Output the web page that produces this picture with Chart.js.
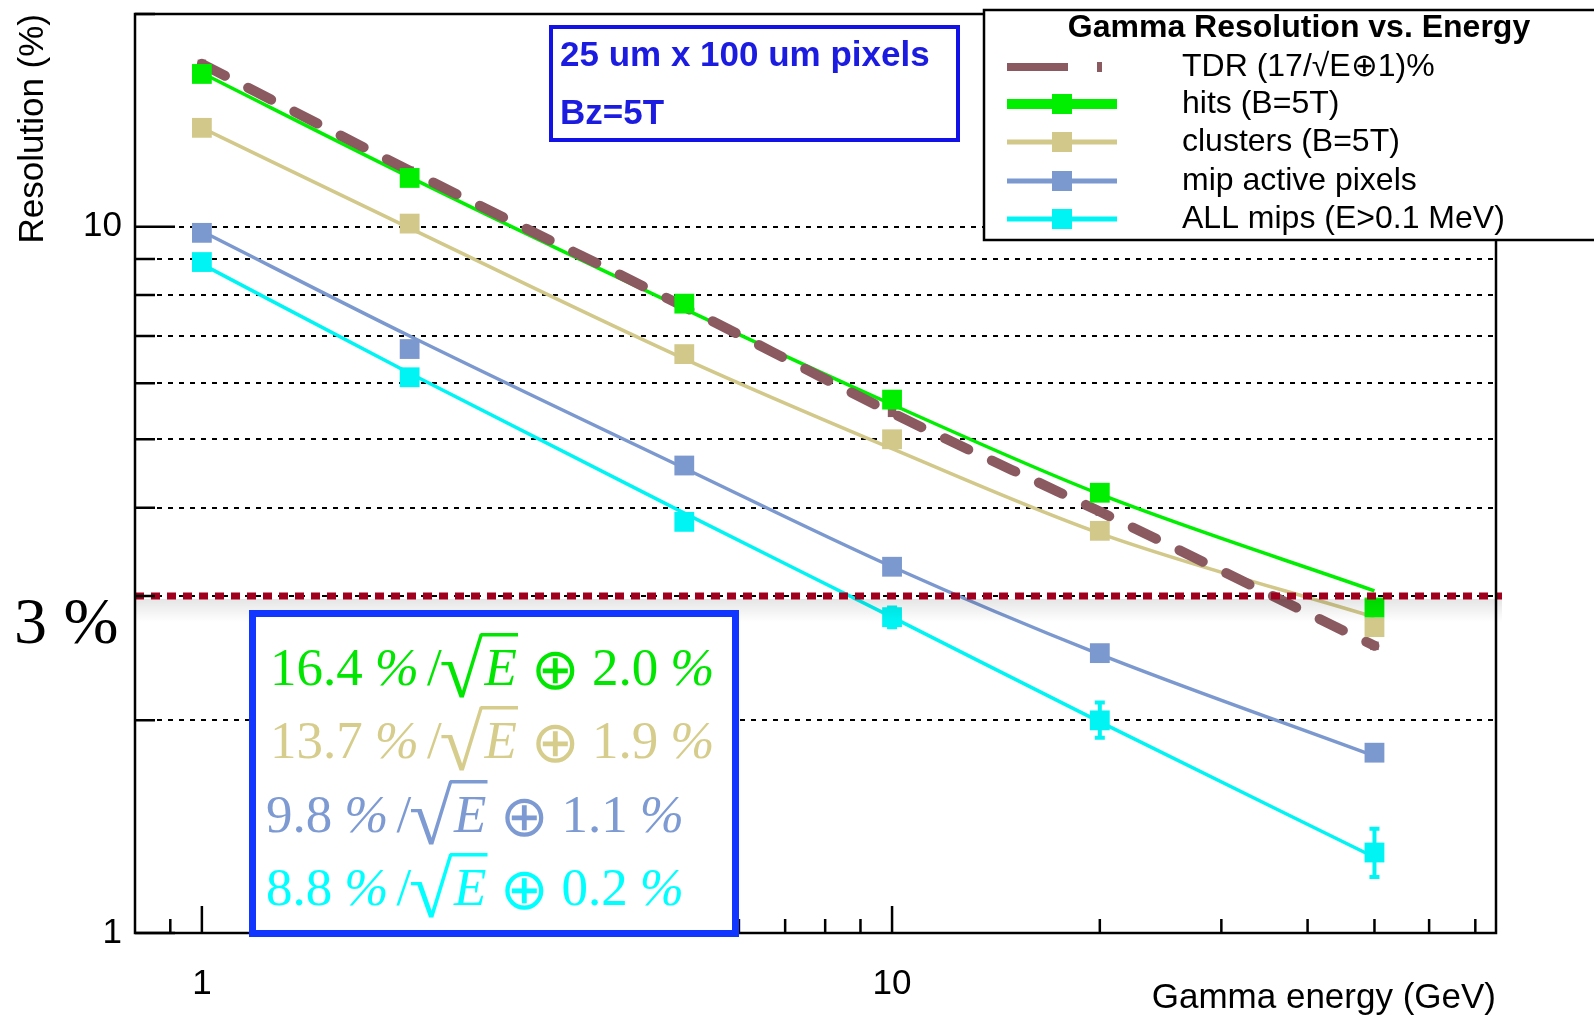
<!DOCTYPE html>
<html><head><meta charset="utf-8">
<script src="https://cdn.jsdelivr.net/npm/chart.js@4.4.0/dist/chart.umd.min.js"></script>
<style>html,body{margin:0;padding:0;background:#fff;}canvas{display:block;}</style>
</head><body>
<canvas id="c" width="1594" height="1019"></canvas>
<script>
// ---------- data ----------
const energies = [1, 2, 5, 10, 20, 50];
const tdrValues = [17.0, 12.0, 7.7, 5.45, 3.95, 2.55];
const hitsValues = [16.45, 11.72, 7.78, 5.69, 4.20, 2.89];
const clustersValues = [13.8, 10.1, 6.6, 5.0, 3.71, 2.71];
const mipPixelValues = [9.8, 6.71, 4.59, 3.30, 2.49, 1.80];
const allMipsValues = [8.91, 6.12, 3.82, 2.80, 2.00, 1.30];
const allMipsErrLow = [null, null, null, 2.71, 1.89, 1.20];
const allMipsErrHigh = [null, null, null, 2.89, 2.12, 1.405];
const hitsFit = [16.5, 11.75, 7.65, 5.6, 4.18, 3.05];
const clustersFit = [13.8, 9.95, 6.5, 4.85, 3.68, 2.8];
const mipPixelFit = [9.85, 7.0, 4.55, 3.3, 2.48, 1.78];
const allMipsFit = [8.85, 6.2, 3.93, 2.8, 1.99, 1.28];
const seriesLabels = ['TDR (17/√E⊕1)%', 'hits (B=5T)', 'clusters (B=5T)', 'mip active pixels', 'ALL mips (E>0.1 MeV)'];
const legendTitle = 'Gamma Resolution vs. Energy';
const fitCoefficients = ['16.4', '13.7', '9.8', '8.8'];
const fitConstants = ['2.0', '1.9', '1.1', '0.2'];
const infoLines = ['25 um x 100 um pixels', 'Bz=5T'];
const xTickLabels = [1, 10];
const yTickLabels = [1, 10];
const yGridValues = [2, 3, 4, 5, 6, 7, 8, 9, 10];
const yMinorTicks = [2, 3, 4, 5, 6, 7, 8, 9, 20];
const xMinorTicks = [0.9, 2, 3, 4, 5, 6, 7, 8, 9, 20, 30, 40, 50, 60, 70];
const referenceLevel = 3;
const referenceLabel = '3 %';

// ---------- styles ----------
const C = {
  tdr: '#8a5a60', hits: '#00ee00', clusters: '#d1c88a', mip: '#7b98cf', all: '#00f4f4',
  fHits: '#00e600', fClusters: '#d6cd8c', fMip: '#7d9bd2', fAll: '#00ffff'
};
const SANS = '"Liberation Sans", Arial, sans-serif';
const SERIF = '"Liberation Serif", "DejaVu Serif", serif';
const pts = arr => energies.map((e, i) => ({x: e, y: arr[i]}));

function fitLine(arr, color, w) {
  return {data: pts(arr), borderColor: color, borderWidth: w, pointRadius: 0, showLine: true,
    cubicInterpolationMode: 'monotone', fill: false, order: 3};
}
function markers(arr, color, label) {
  return {label, data: pts(arr), showLine: false, pointStyle: 'rect', pointRadius: 14,
    pointBackgroundColor: color, pointBorderWidth: 0, borderColor: color, backgroundColor: color, order: 0};
}

const datasets = [
  fitLine(hitsFit, C.hits, 3.5),
  fitLine(clustersFit, C.clusters, 3.5),
  fitLine(mipPixelFit, C.mip, 3.5),
  fitLine(allMipsFit, C.all, 3.5),
  {label: seriesLabels[0], data: pts(tdrValues), borderColor: C.tdr, borderWidth: 10, borderDash: [26, 26],
   borderCapStyle: 'round', cubicInterpolationMode: 'monotone', pointStyle: 'rect', pointRadius: 6,
   pointBackgroundColor: C.tdr, pointBorderWidth: 0, fill: false, order: 2},
  markers(hitsValues, C.hits, seriesLabels[1]),
  markers(clustersValues, C.clusters, seriesLabels[2]),
  markers(mipPixelValues, C.mip, seriesLabels[3]),
  markers(allMipsValues, C.all, seriesLabels[4]),
];

function drawFormula(ctx, x, base, coef, cst, color) {
  ctx.save();
  ctx.fillStyle = color; ctx.textAlign = 'left'; ctx.textBaseline = 'alphabetic';
  const up = `53px ${SERIF}`, it = `italic 53px ${SERIF}`;
  ctx.font = up; ctx.fillText(coef, x, base); x += ctx.measureText(coef).width + 12;
  ctx.font = it; ctx.fillText('%', x, base); x += ctx.measureText('%').width + 8;
  ctx.font = up; ctx.fillText('/', x, base); x += ctx.measureText('/').width - 2;
  // radical
  ctx.font = `52px ${SERIF}`;
  let m = ctx.measureText('√');
  let h = m.actualBoundingBoxAscent + m.actualBoundingBoxDescent;
  const S = 52 * 66 / h;
  ctx.font = `${S}px ${SERIF}`; m = ctx.measureText('√');
  const gy = base + 13 - m.actualBoundingBoxDescent;
  ctx.fillText('√', x, gy);
  const topY = gy - m.actualBoundingBoxAscent;
  const rx = x + m.actualBoundingBoxRight;
  x = rx + 1;
  ctx.font = it; ctx.fillText('E', x, base); const ew = ctx.measureText('E').width;
  ctx.fillRect(rx - 3, topY, x + ew + 4 - rx, 3.5);
  x += ew + 14;
  // oplus (light weight)
  const OP = '"DejaVu Sans", "Liberation Serif", serif';
  ctx.font = `200 52px ${OP}`; m = ctx.measureText('⊕');
  h = m.actualBoundingBoxAscent + m.actualBoundingBoxDescent;
  const S2 = 52 * 39 / h; ctx.font = `200 ${S2}px ${OP}`; m = ctx.measureText('⊕');
  ctx.fillText('⊕', x, base + 5 - m.actualBoundingBoxDescent); x += m.width + 12;
  ctx.font = up; ctx.fillText(cst, x, base); x += ctx.measureText(cst).width + 12;
  ctx.font = it; ctx.fillText('%', x, base);
  ctx.restore();
}

const deco = {
  id: 'deco',
  beforeDraw(chart) {
    const ctx = chart.ctx; ctx.save(); ctx.fillStyle = '#fff'; ctx.fillRect(0, 0, chart.width, chart.height); ctx.restore();
  },
  beforeDatasetsDraw(chart) {
    const {ctx, chartArea: a, scales: {x, y}} = chart;
    ctx.save();
    ctx.strokeStyle = '#000'; ctx.lineWidth = 2; ctx.setLineDash([5, 6]);
    yGridValues.forEach(v => {
      const py = Math.round(y.getPixelForValue(v));
      ctx.beginPath(); ctx.moveTo(a.left, py); ctx.lineTo(a.right, py); ctx.stroke();
    });
    ctx.setLineDash([]);
    // error bars
    ctx.strokeStyle = C.all; ctx.lineWidth = 4;
    energies.forEach((e, i) => {
      if (allMipsErrLow[i] == null) return;
      const px = x.getPixelForValue(e), y1 = y.getPixelForValue(allMipsErrLow[i]), y2 = y.getPixelForValue(allMipsErrHigh[i]);
      ctx.beginPath(); ctx.moveTo(px, y1); ctx.lineTo(px, y2);
      ctx.moveTo(px - 5, y1); ctx.lineTo(px + 5, y1); ctx.moveTo(px - 5, y2); ctx.lineTo(px + 5, y2); ctx.stroke();
    });
    ctx.restore();
  },
  afterDatasetsDraw(chart) {
    const {ctx, chartArea: a, scales: {x, y}} = chart;
    ctx.save();
    // reference line + shadow
    const ry = y.getPixelForValue(referenceLevel);
    const g = ctx.createLinearGradient(0, ry + 3, 0, ry + 26);
    g.addColorStop(0, 'rgba(0,0,0,0.10)'); g.addColorStop(1, 'rgba(0,0,0,0)');
    ctx.fillStyle = g; ctx.fillRect(a.left, ry + 3, a.right + 6 - a.left, 23);
    ctx.strokeStyle = '#a0001e'; ctx.lineWidth = 7; ctx.setLineDash([9, 7]);
    ctx.beginPath(); ctx.moveTo(a.left, ry); ctx.lineTo(a.right + 6, ry); ctx.stroke();
    ctx.setLineDash([]);
    // frame
    ctx.strokeStyle = '#000'; ctx.lineWidth = 2.5;
    ctx.strokeRect(a.left, a.top, a.right - a.left, a.bottom - a.top);
    // ticks
    ctx.lineWidth = 2.5; ctx.beginPath();
    yTickLabels.forEach(v => { const py = y.getPixelForValue(v); ctx.moveTo(a.left, py); ctx.lineTo(a.left + 40, py); });
    yMinorTicks.forEach(v => { const py = y.getPixelForValue(v); ctx.moveTo(a.left, py); ctx.lineTo(a.left + 20, py); });
    xTickLabels.forEach(v => { const px = x.getPixelForValue(v); ctx.moveTo(px, a.bottom); ctx.lineTo(px, a.bottom - 27); });
    xMinorTicks.forEach(v => { const px = x.getPixelForValue(v); ctx.moveTo(px, a.bottom); ctx.lineTo(px, a.bottom - 14); });
    ctx.stroke();
    ctx.restore();
  },
  afterDraw(chart) {
    const ctx = chart.ctx;
    ctx.save();
    // legend
    const L = {l: 984, t: 10, r: 1610, b: 240};
    ctx.fillStyle = '#fff'; ctx.fillRect(L.l, L.t, L.r - L.l, L.b - L.t);
    ctx.strokeStyle = '#000'; ctx.lineWidth = 2.5; ctx.strokeRect(L.l, L.t, L.r - L.l, L.b - L.t);
    ctx.fillStyle = '#000'; ctx.textAlign = 'center'; ctx.textBaseline = 'middle';
    ctx.font = `bold 32px ${SANS}`; ctx.fillText(legendTitle, 1299, 28);
    const rows = [67, 104, 142, 181, 219];
    const cols = [C.tdr, C.hits, C.clusters, C.mip, C.all];
    rows.forEach((ry, i) => {
      ctx.fillStyle = cols[i];
      if (i === 0) {
        ctx.fillRect(1007, ry - 4, 61, 8); ctx.fillRect(1097, ry - 5, 5, 10);
      } else {
        const lw = i === 1 ? 10 : 5;
        ctx.fillRect(1007, ry - lw / 2, 110, lw);
        ctx.fillRect(1052, ry - 10, 20, 20);
      }
      ctx.fillStyle = '#000'; ctx.textAlign = 'left'; ctx.font = `32px ${SANS}`;
      ctx.fillText(seriesLabels[i], 1182, ry);
    });
    // info box
    ctx.fillStyle = '#fff'; ctx.fillRect(549, 25, 411, 117);
    ctx.strokeStyle = '#1212e6'; ctx.lineWidth = 4; ctx.strokeRect(551, 27, 407, 113);
    ctx.fillStyle = '#1c1ce0'; ctx.font = `bold 35px ${SANS}`; ctx.textAlign = 'left'; ctx.textBaseline = 'alphabetic';
    ctx.fillText(infoLines[0], 560, 66);
    ctx.fillText(infoLines[1], 560, 124);
    // formula box
    ctx.fillStyle = '#fff'; ctx.fillRect(249, 610, 490, 327);
    ctx.strokeStyle = '#1036ff'; ctx.lineWidth = 7; ctx.strokeRect(252.5, 613.5, 483, 320);
    const fcols = [C.fHits, C.fClusters, C.fMip, C.fAll];
    const bases = [685, 758, 832, 905];
    const starts = [270, 270, 266, 266];
    fitCoefficients.forEach((c, i) => drawFormula(ctx, starts[i], bases[i], c, fitConstants[i], fcols[i]));
    // reference label
    ctx.fillStyle = '#000'; ctx.font = `66px ${SERIF}`; ctx.textAlign = 'left';
    ctx.fillText(referenceLabel, 14, 643);
    ctx.restore();
  }
};

const fontSans = {family: SANS, size: 35};
new Chart(document.getElementById('c'), {
  type: 'line',
  data: {datasets},
  options: {
    responsive: false, animation: false, devicePixelRatio: 1,
    layout: {padding: {top: 8, right: 98, left: 0, bottom: 0}},
    plugins: {legend: {display: false}, tooltip: {enabled: false}},
    scales: {
      x: {type: 'logarithmic', min: 0.8, max: 75,
        grid: {display: false, drawTicks: false}, border: {display: false},
        afterBuildTicks: s => { s.ticks = xTickLabels.map(v => ({value: v})); },
        afterFit: s => { s.height = 86; s.paddingLeft = 0; s.paddingRight = 0; },
        ticks: {autoSkip: false, maxRotation: 0, padding: 30, color: '#000', font: fontSans, callback: v => String(v)},
        title: {display: true, text: 'Gamma energy (GeV)', align: 'end', color: '#000', font: fontSans, padding: {top: 0, bottom: 0}}},
      y: {type: 'logarithmic', min: 1, max: 20,
        grid: {display: false, drawTicks: false}, border: {display: false},
        afterBuildTicks: s => { s.ticks = yTickLabels.map(v => ({value: v})); },
        afterFit: s => { s.width = 135; s.paddingTop = 0; s.paddingBottom = 0; },
        ticks: {autoSkip: false, padding: 13, color: '#000', font: fontSans, callback: v => String(v)},
        title: {display: true, text: 'Resolution (%)', align: 'end', color: '#000', font: fontSans, padding: {top: 12, bottom: 0}}}
    }
  },
  plugins: [deco]
});
</script>
</body></html>
